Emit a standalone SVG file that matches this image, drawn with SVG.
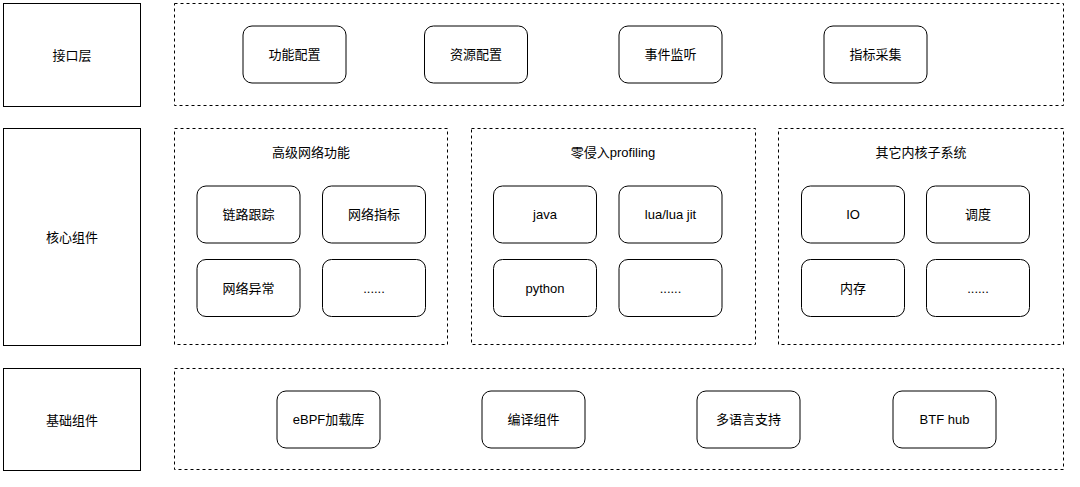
<svg xmlns="http://www.w3.org/2000/svg" width="1080" height="487" viewBox="0 0 1080 487">
<style>
.bg{fill:#ffffff}
.layer{fill:#ffffff;stroke:#000000;stroke-width:1}
.group{fill:none;stroke:#000000;stroke-width:1;stroke-dasharray:3 3}
.node{fill:#ffffff;stroke:#000000;stroke-width:1}
text{font-family:"Liberation Sans","Noto Sans CJK SC",sans-serif;font-size:13px;fill:#000000;text-anchor:middle;dominant-baseline:central}
</style>
<rect class="bg" x="0" y="0" width="1080" height="487"/>

<g id="layer-interface">
<rect class="layer" x="3.5" y="3.5" width="137" height="103"/>
<text x="72" y="55">接口层</text>
</g>
<g id="layer-core">
<rect class="layer" x="3.5" y="128.5" width="137" height="217"/>
<text x="72" y="237">核心组件</text>
</g>
<g id="layer-base">
<rect class="layer" x="3.5" y="368.5" width="137" height="102"/>
<text x="72" y="420">基础组件</text>
</g>

<g id="group-interface"><rect class="group" x="174.5" y="3.5" width="889" height="102"/></g>
<g id="group-network">
<rect class="group" x="174.5" y="128.5" width="273" height="216"/>
<text x="311" y="152">高级网络功能</text>
</g>
<g id="group-profiling">
<rect class="group" x="471.5" y="128.5" width="284" height="216"/>
<text x="613" y="152">零侵入profiling</text>
</g>
<g id="group-kernel">
<rect class="group" x="778.5" y="128.5" width="285" height="216"/>
<text x="921" y="152">其它内核子系统</text>
</g>
<g id="group-base"><rect class="group" x="174.5" y="368.5" width="889" height="101"/></g>

<g id="n-func"><rect class="node" x="243" y="26" width="103" height="57" rx="9"/><text x="294.5" y="54.5">功能配置</text></g>
<g id="n-res"><rect class="node" x="424.5" y="26" width="103" height="57" rx="9"/><text x="476" y="54.5">资源配置</text></g>
<g id="n-event"><rect class="node" x="619" y="26" width="103" height="57" rx="9"/><text x="670.5" y="54.5">事件监听</text></g>
<g id="n-metric"><rect class="node" x="824" y="26" width="103" height="57" rx="9"/><text x="875.5" y="54.5">指标采集</text></g>

<g id="n-trace"><rect class="node" x="197" y="186" width="103" height="57" rx="9"/><text x="248.5" y="214.5">链路跟踪</text></g>
<g id="n-netmetric"><rect class="node" x="322.5" y="186" width="103" height="57" rx="9"/><text x="374" y="214.5">网络指标</text></g>
<g id="n-netabn"><rect class="node" x="197" y="259.5" width="103" height="57" rx="9"/><text x="248.5" y="288">网络异常</text></g>
<g id="n-netmore"><rect class="node" x="322.5" y="259.5" width="103" height="57" rx="9"/><text x="374" y="288">......</text></g>

<g id="n-java"><rect class="node" x="493.5" y="186" width="103" height="57" rx="9"/><text x="545" y="214.5">java</text></g>
<g id="n-lua"><rect class="node" x="619" y="186" width="103" height="57" rx="9"/><text x="670.5" y="214.5">lua/lua jit</text></g>
<g id="n-python"><rect class="node" x="493.5" y="259.5" width="103" height="57" rx="9"/><text x="545" y="288">python</text></g>
<g id="n-profmore"><rect class="node" x="619" y="259.5" width="103" height="57" rx="9"/><text x="670.5" y="288">......</text></g>

<g id="n-io"><rect class="node" x="801.5" y="186" width="103" height="57" rx="9"/><text x="853" y="214.5">IO</text></g>
<g id="n-sched"><rect class="node" x="926.5" y="186" width="103" height="57" rx="9"/><text x="978" y="214.5">调度</text></g>
<g id="n-mem"><rect class="node" x="801.5" y="259.5" width="103" height="57" rx="9"/><text x="853" y="288">内存</text></g>
<g id="n-kmore"><rect class="node" x="926.5" y="259.5" width="103" height="57" rx="9"/><text x="978" y="288">......</text></g>

<g id="n-ebpf"><rect class="node" x="277" y="391" width="103" height="57" rx="9"/><text x="328.5" y="419.5">eBPF加载库</text></g>
<g id="n-compile"><rect class="node" x="482" y="391" width="103" height="57" rx="9"/><text x="533.5" y="419.5">编译组件</text></g>
<g id="n-lang"><rect class="node" x="697" y="391" width="103" height="57" rx="9"/><text x="748.5" y="419.5">多语言支持</text></g>
<g id="n-btf"><rect class="node" x="893" y="391" width="103" height="57" rx="9"/><text x="944.5" y="419.5">BTF hub</text></g>

<g id="connectors"></g>
</svg>
